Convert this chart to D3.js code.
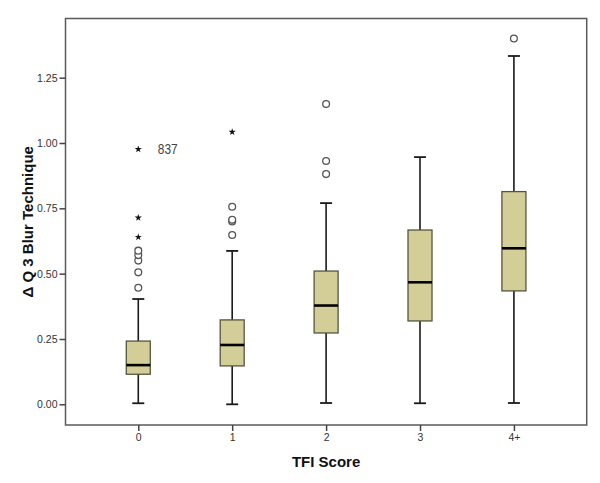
<!DOCTYPE html>
<html>
<head>
<meta charset="utf-8">
<script src="https://cdn.jsdelivr.net/npm/d3@7"></script>
<style>
  html, body { margin: 0; padding: 0; background: #fff; }
  svg { display: block; }
</style>
</head>
<body>
<div id="chart"></div>
<script>
// ---- data ----
const categories = ["0", "1", "2", "3", "4+"];
const whiskerLow  = [0.004, 0.000, 0.005, 0.004, 0.005];
const q1          = [0.115, 0.147, 0.273, 0.319, 0.434];
const median      = [0.150, 0.227, 0.378, 0.467, 0.597];
const q3          = [0.242, 0.323, 0.510, 0.667, 0.814];
const whiskerHigh = [0.403, 0.587, 0.770, 0.946, 1.333];
const circleOutliers = [
  [0.446, 0.505, 0.550, 0.571, 0.588],
  [0.648, 0.700, 0.706, 0.756],
  [0.881, 0.931, 1.149],
  [],
  [1.400]
];
const extremeOutliers = [
  [0.640, 0.714, 0.976],
  [1.042],
  [],
  [],
  []
];
const extremeLabelCat = ["0"];
const extremeLabelValue = [0.976];
const extremeLabelText = ["837"];
const yTicks = [0, 0.25, 0.5, 0.75, 1.0, 1.25];
const xTitle = "TFI Score";
const yTitle = "Δ Q 3 Blur Technique";

(function () {
// ---- layout ----
const W = 600, H = 483;
const mLeft = 65.5, mRight = 586.7, mTop = 18.5, mBottom = 425;

const svg = d3.select("#chart").append("svg").attr("width", W).attr("height", H);

const x = d3.scalePoint().domain(categories).range([mLeft, mRight]).padding(0.775);
const y = d3.scaleLinear().domain([-0.0792, 1.4765]).range([mBottom, mTop]);

const font = "'Liberation Sans', Arial, sans-serif";
const boxW = 24, capW = 12;

// frame
svg.append("rect")
  .attr("x", mLeft).attr("y", mTop)
  .attr("width", mRight - mLeft).attr("height", mBottom - mTop)
  .attr("fill", "none").attr("stroke", "#5a5a5a").attr("stroke-width", 1.5);

// y axis
const yAxis = d3.axisLeft(y).tickValues(yTicks).tickFormat(d3.format(".2f")).tickSize(6).tickPadding(2);
const gy = svg.append("g").attr("transform", `translate(${mLeft},0)`).call(yAxis);
gy.select(".domain").remove();
gy.selectAll(".tick line").attr("stroke", "#444").attr("stroke-width", 1.5);
gy.selectAll(".tick text").attr("font-family", font).attr("font-size", 10.5).attr("fill", "#333");

// x axis
const xAxis = d3.axisBottom(x).tickSize(6).tickPadding(3);
const gx = svg.append("g").attr("transform", `translate(0,${mBottom})`).call(xAxis);
gx.select(".domain").remove();
gx.selectAll(".tick line").attr("stroke", "#444").attr("stroke-width", 1.5);
gx.selectAll(".tick text").attr("font-family", font).attr("font-size", 10.5).attr("fill", "#333");

// boxes
const data = categories.map((c, i) => ({
  c, lo: whiskerLow[i], q1: q1[i], med: median[i], q3: q3[i], hi: whiskerHigh[i],
  circ: circleOutliers[i], ext: extremeOutliers[i]
}));

const g = svg.append("g");
data.forEach(d => {
  const cx = x(d.c);
  g.append("line").attr("x1", cx).attr("x2", cx).attr("y1", y(d.hi)).attr("y2", y(d.q3))
    .attr("stroke", "#1a1a1a").attr("stroke-width", 1.6);
  g.append("line").attr("x1", cx).attr("x2", cx).attr("y1", y(d.q1)).attr("y2", y(d.lo))
    .attr("stroke", "#1a1a1a").attr("stroke-width", 1.6);
  g.append("line").attr("x1", cx - capW / 2).attr("x2", cx + capW / 2).attr("y1", y(d.hi)).attr("y2", y(d.hi))
    .attr("stroke", "#1a1a1a").attr("stroke-width", 1.8);
  g.append("line").attr("x1", cx - capW / 2).attr("x2", cx + capW / 2).attr("y1", y(d.lo)).attr("y2", y(d.lo))
    .attr("stroke", "#1a1a1a").attr("stroke-width", 1.8);
  g.append("rect").attr("x", cx - boxW / 2).attr("y", y(d.q3))
    .attr("width", boxW).attr("height", y(d.q1) - y(d.q3))
    .attr("fill", "#d3ce98").attr("stroke", "#55553f").attr("stroke-width", 1.3);
  g.append("line").attr("x1", cx - boxW / 2).attr("x2", cx + boxW / 2).attr("y1", y(d.med)).attr("y2", y(d.med))
    .attr("stroke", "#000").attr("stroke-width", 2.6);
  d.circ.forEach(v => {
    g.append("circle").attr("cx", cx).attr("cy", y(v)).attr("r", 3.4)
      .attr("fill", "#fff").attr("stroke", "#555").attr("stroke-width", 1.3);
  });
  d.ext.forEach(v => {
    g.append("path").attr("d", d3.symbol(d3.symbolStar, 16)())
      .attr("transform", `translate(${cx},${y(v)})`).attr("fill", "#111");
  });
});

// extreme labels
extremeLabelText.forEach((t, i) => {
  const lx = x(extremeLabelCat[i]) + 19.5;
  svg.append("text")
    .attr("x", lx).attr("y", y(extremeLabelValue[i]))
    .attr("dy", "0.36em")
    .attr("font-family", font).attr("font-size", 14).attr("fill", "#444")
    .attr("transform", `translate(${lx},0) scale(0.85,1) translate(${-lx},0)`)
    .text(t);
});

// titles
svg.append("text")
  .attr("x", (mLeft + mRight) / 2).attr("y", 467)
  .attr("text-anchor", "middle")
  .attr("font-family", font).attr("font-weight", "bold").attr("font-size", 15).attr("fill", "#111")
  .text(xTitle);

svg.append("text")
  .attr("transform", `translate(33,${(mTop + mBottom) / 2}) rotate(-90)`)
  .attr("text-anchor", "middle")
  .attr("font-family", font).attr("font-weight", "bold").attr("font-size", 15).attr("fill", "#111")
  .text(yTitle);
})();
</script>
</body>
</html>
